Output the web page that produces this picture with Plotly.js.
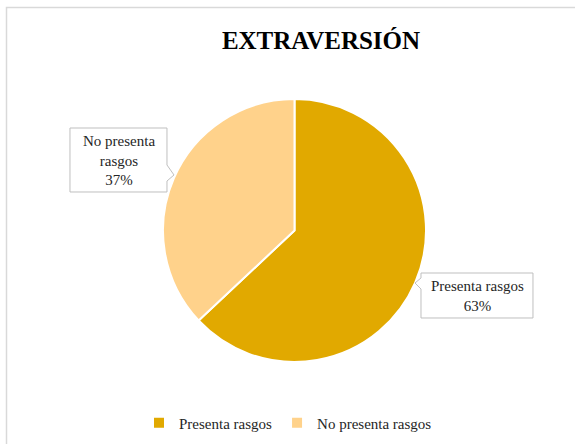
<!DOCTYPE html>
<html><head><meta charset="utf-8">
<script src="https://cdn.plot.ly/plotly-3.0.1.min.js"></script>
<style>html,body{margin:0;padding:0;background:#fff}#chart{width:576px;height:444px}</style>
</head><body><div id="chart"></div>
<script>
const categories = ["Presenta rasgos", "No presenta rasgos"];
const values = [63, 37];
const colors = ["#E1A900", "#FFD28B"];
const labelTexts = ["Presenta rasgos<br>63%", "No presenta<br>rasgos<br>37%"];

const W = 576, H = 444;
const px = x => x / W, py = y => 1 - y / H;
function path(pts){ return pts.map((p,i)=>(i?'L':'M')+px(p[0]).toFixed(4)+','+py(p[1]).toFixed(4)).join(' ')+' Z'; }

const font = "Liberation Serif";

const data = [{
  type: 'pie',
  labels: categories,
  values: values,
  marker: {colors: colors, line: {color: '#ffffff', width: 2}},
  sort: false,
  direction: 'clockwise',
  rotation: 0,
  textinfo: 'none',
  hoverinfo: 'label+percent',
  domain: {x: [px(163), px(426)], y: [py(362), py(99)]}
}];

const calloutStyle = {type: 'path', xref: 'paper', yref: 'paper', fillcolor: '#ffffff', line: {color: '#BFBFBF', width: 1}};
const shapes = [
  {type: 'path', xref: 'paper', yref: 'paper', path: 'M'+px(6.5)+','+py(445)+' L'+px(6.5)+','+py(7.5)+' L'+px(575)+','+py(7.5), line: {color: '#D9D9D9', width: 1.5}},
  Object.assign({}, calloutStyle, {path: path([[70,128],[167,128],[167,165],[174,175],[167,181],[167,192],[70,192]])}),
  Object.assign({}, calloutStyle, {path: path([[421,273],[533,273],[533,318],[421,318],[421,289],[415,283],[421,278]])})
];

const layout = {
  width: W, height: H,
  margin: {l: 0, r: 0, t: 0, b: 0},
  paper_bgcolor: '#ffffff',
  font: {family: font, color: '#262626', size: 15},
  title: {text: '<b>EXTRAVERSIÓN</b>', font: {family: font, size: 25, color: '#000000'}, x: px(321), xanchor: 'center', y: py(40), yanchor: 'middle'},
  showlegend: true,
  legend: {orientation: 'h', x: 0.5, xanchor: 'center', y: py(423), yanchor: 'middle', font: {family: font, size: 15, color: '#262626'}, itemwidth: 30, traceorder: 'normal'},
  shapes: shapes,
  annotations: [
    {xref: 'paper', yref: 'paper', x: px(477), y: py(295.5), text: labelTexts[0], showarrow: false, align: 'center', font: {family: font, size: 15, color: '#262626'}, xanchor: 'center', yanchor: 'middle'},
    {xref: 'paper', yref: 'paper', x: px(118.5), y: py(160), text: labelTexts[1], showarrow: false, align: 'center', font: {family: font, size: 15, color: '#262626'}, xanchor: 'center', yanchor: 'middle'}
  ]
};

Plotly.newPlot('chart', data, layout, {displayModeBar: false, staticPlot: true});
</script></body></html>
